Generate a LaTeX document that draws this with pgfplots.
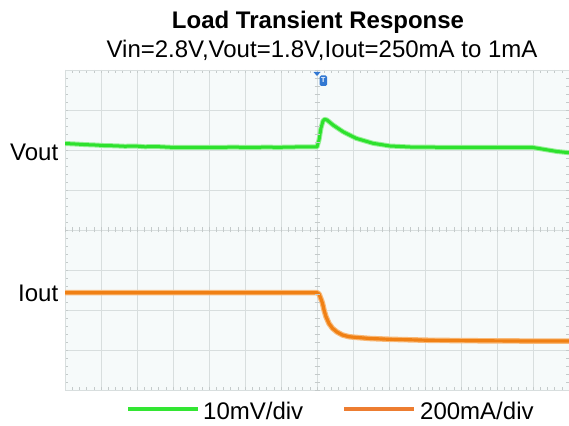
\documentclass[border=0pt]{standalone}
\usepackage{fontspec}
\setmainfont{Liberation Sans}
\usepackage{pgfplots}
\usepackage{pgfplotstable}
\pgfplotsset{compat=1.18}
\definecolor{gridc}{RGB}{216,222,222}
\definecolor{tickc}{RGB}{196,202,202}
\definecolor{bgc}{RGB}{246,250,250}
\definecolor{vgreen}{RGB}{45,225,45}
\definecolor{vgreenl}{RGB}{150,240,150}
\definecolor{iorange}{RGB}{240,128,20}
\definecolor{iorangel}{RGB}{248,185,120}
\definecolor{lgreen}{RGB}{51,230,51}
\definecolor{lorange}{RGB}{237,125,49}
\definecolor{trigblue}{RGB}{50,120,210}

% pixel coordinates of the traces (x from left, y from top)
\pgfplotstableread{
px py
65 143.5
75 144.0
85 144.6
95 145.0
105 145.6
115 145.8
125 146.3
135 146.0
145 146.8
155 146.5
165 147.0
175 147.5
190 147.3
205 147.5
220 147.3
235 147.2
250 147.4
265 147.2
280 147.3
295 147.0
310 147.0
317 147.0
319 140.0
321 128.0
323 121.0
324.5 119.3
327 120.0
333 125.0
343 131.7
356 138.3
373 143.3
390 146.0
410 147.0
440 147.3
470 147.5
500 147.3
520 147.3
533 147.5
545 149.5
557 151.5
569 152.7
}\vout

\pgfplotstableread{
px py
65 292.7
150 292.7
250 292.7
317 292.7
319 294.0
321 299.0
322.5 303.3
324 310.0
326 316.7
329 323.5
332.5 328.3
337 332.0
342.5 335.0
349 336.7
355 337.3
370 338.5
390 339.3
430 340.3
470 340.7
520 341.0
569 341.0
}\iout

\begin{document}
\begin{tikzpicture}[x=1pt,y=1pt]
\path[use as bounding box] (0,0) rectangle (569,425);
\begin{axis}[
  at={(65pt,35pt)}, anchor=south west,
  scale only axis, width=504pt, height=320pt,
  xmin=65, xmax=569, ymin=70, ymax=390, y dir=reverse,
  xtick={65,101,...,569}, ytick={70,110,...,390},
  minor x tick num=4, minor y tick num=4,
  xticklabels={}, yticklabels={},
  grid=major, major grid style={gridc, line width=0.6pt},
  tick align=inside, major tick length=3pt, minor tick length=3pt,
  every tick/.style={tickc, line width=0.5pt},
  axis line style={gridc, line width=0.7pt},
  axis background/.style={fill=bgc},
  clip=true,
]
\addplot[vgreenl, line width=5pt, line join=round] table[x=px,y=py]{\vout};
\addplot[vgreen, line width=3pt, line join=round] table[x=px,y=py]{\vout};
\addplot[iorangel, line width=5.5pt, line join=round] table[x=px,y=py]{\iout};
\addplot[iorange, line width=3.2pt, line join=round] table[x=px,y=py]{\iout};
\end{axis}
% centre graticule ticks
\foreach \i in {0,...,70} \draw[tickc, line width=0.5pt] ({65+\i*7.2},192.5) -- ++(0,5);
\foreach \j in {0,...,40} \draw[tickc, line width=0.5pt] (314.5,{355-\j*8}) -- ++(5,0);
% trigger marker
\fill[trigblue] (313.5,353) -- (320.5,353) -- (317,349) -- cycle;
\fill[trigblue, rounded corners=1.5pt] (319.5,349.5) rectangle (327,339);
\node[white, font=\fontsize{7}{8}\selectfont\bfseries, inner sep=0pt] at (323.2,344.5) {T};
% titles
\node[anchor=base, inner sep=0pt, font=\fontsize{24}{28}\selectfont\bfseries] at (318,396) {Load Transient Response};
\node[anchor=base, inner sep=0pt, font=\fontsize{24}{28}\selectfont] at (322,367) {Vin=2.8V,Vout=1.8V,Iout=250mA to 1mA};
% channel labels
\node[anchor=base west, inner sep=0pt, font=\fontsize{24}{28}\selectfont] at (10,264) {Vout};
\node[anchor=base west, inner sep=0pt, font=\fontsize{24}{28}\selectfont] at (18,123) {Iout};
% legend
\draw[lgreen, line width=3.3pt] (128,16) -- (198,16);
\node[anchor=base west, inner sep=0pt, font=\fontsize{24}{28}\selectfont] at (203,6) {10mV/div};
\draw[lorange, line width=3.3pt] (344,16) -- (414,16);
\node[anchor=base west, inner sep=0pt, font=\fontsize{24}{28}\selectfont] at (420,6) {200mA/div};
\end{tikzpicture}
\end{document}
